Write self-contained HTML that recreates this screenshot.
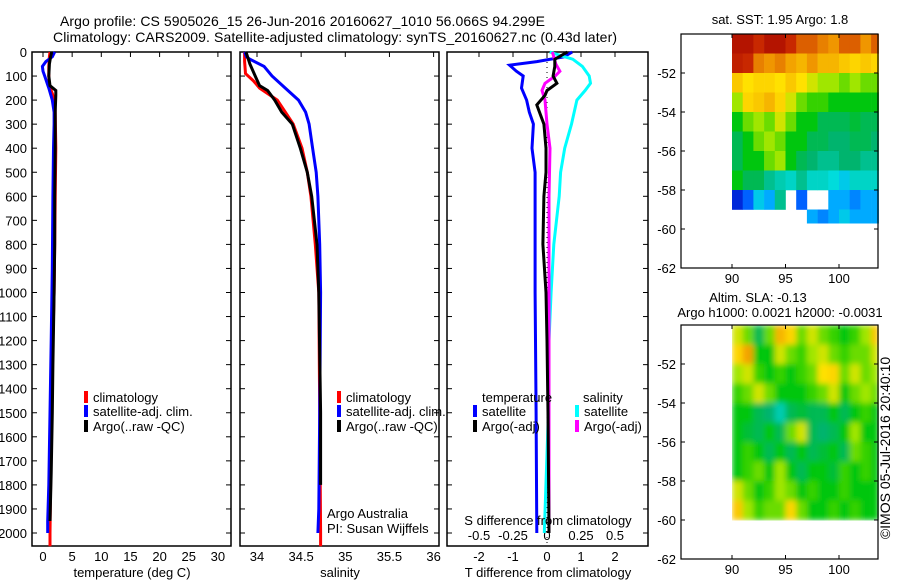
<!DOCTYPE html>
<html><head><meta charset="utf-8"><style>
html,body{margin:0;padding:0;background:#fff;}
svg{display:block;font-family:"Liberation Sans",sans-serif;}
</style></head><body>
<svg id="fig" width="900" height="580" viewBox="0 0 900 580">
<text x="60" y="26" font-size="14" text-anchor="start" textLength="485">Argo profile: CS 5905026_15 26-Jun-2016 20160627_1010 56.066S 94.299E</text>
<text x="53" y="42" font-size="14" text-anchor="start" textLength="564">Climatology: CARS2009. Satellite-adjusted climatology: synTS_20160627.nc (0.43d later)</text>
<defs><filter id="blur" x="0" y="0" width="1" height="1"><feGaussianBlur stdDeviation="3"/></filter></defs>
<g id="g"></g>
</svg>
<script>
// ---------- data ----------
const depthTicks=[0,100,200,300,400,500,600,700,800,900,1000,1100,1200,1300,1400,1500,1600,1700,1800,1900,2000];
const tTicks=[0,5,10,15,20,25,30];
const sTicks=[34,34.5,35,35.5,36];
const tdTicks=[-2,-1,0,1,2];
const sdTicks=[-0.5,-0.25,0,0.25,0.5];
const sdTickLabels=["-0.5","-0.25","0","0.25","0.5"];

const tClimDepth=[0,20,60,100,140,200,250,400,600,800,1000,1200,1500,1800,2000,2055];
const tClimVal=[1.2,1.1,1.0,1.0,1.1,2.0,2.1,2.2,2.1,2.0,1.9,1.7,1.5,1.3,1.2,1.2];
const tSatDepth=[0,20,40,60,80,100,150,200,250,300,400,600,900,1200,1500,1800,1950,2000];
const tSatVal=[2.0,1.6,0.5,-0.1,0.0,0.3,1.0,1.6,1.9,1.9,1.8,1.7,1.6,1.4,1.2,1.0,0.8,0.8];
const tArgoDepth=[0,20,50,100,140,160,180,250,400,600,800,1000,1300,1500,1750,1950];
const tArgoVal=[1.5,1.3,1.1,1.0,1.2,2.2,2.2,2.1,2.1,2.0,2.0,1.9,1.7,1.6,1.4,1.2];

const sClimDepth=[0,40,90,120,150,200,250,300,400,500,600,800,1000,1500,2000,2055];
const sClimVal=[33.86,33.86,33.87,33.96,34.03,34.23,34.32,34.41,34.51,34.57,34.61,34.66,34.70,34.71,34.72,34.72];
const sSatDepth=[0,20,30,60,100,150,200,250,300,400,500,600,800,1000,1500,1900,2000];
const sSatVal=[33.86,33.88,33.92,34.08,34.17,34.32,34.47,34.55,34.59,34.63,34.67,34.69,34.71,34.72,34.71,34.70,34.69];
const sArgoDepth=[0,50,100,140,160,200,250,300,400,500,600,800,1000,1500,1800];
const sArgoVal=[33.875,33.92,33.98,34.03,34.12,34.20,34.28,34.40,34.49,34.57,34.62,34.68,34.70,34.72,34.72];

const dTSatDepth=[0,20,40,55,80,100,150,200,250,300,400,500,800,1000,1500,2000];
const dTSatVal=[0.74,0.5,-0.3,-1.1,-0.9,-0.7,-0.75,-0.6,-0.52,-0.4,-0.44,-0.35,-0.35,-0.35,-0.32,-0.3];
const dTArgoDepth=[0,30,60,100,130,160,180,220,300,400,500,600,800,1000,1200,1500,2000];
const dTArgoVal=[0.6,0.23,0.23,0.18,0.29,0.0,-0.06,-0.3,-0.09,-0.03,-0.03,-0.09,-0.12,-0.03,0.0,0.03,0.06];
const dSSatDepth=[0,15,30,60,100,130,160,200,300,400,500,600,800,1000,1200,1500,2000];
const dSSatVal=[0.02,0.1,0.19,0.26,0.31,0.32,0.28,0.22,0.18,0.13,0.10,0.09,0.05,0.03,0.015,0.01,-0.02];
const dSArgoDepth=[0,50,80,100,130,160,200,250,300,400,600,1000,1500,2000];
const dSArgoVal=[0.04,0.065,0.095,0.06,-0.015,-0.037,-0.015,-0.007,0.0,0.022,0.015,0.015,0.015,0.015];

const mapLons=[90,91,92,93,94,95,96,97,98,99,100,101,102,103];
const mapLats=[-50,-51,-52,-53,-54,-55,-56,-57,-58,-59];
const sstGrid=[
[0.95,0.95,0.9,0.95,0.95,0.9,0.85,0.85,0.82,0.8,0.85,0.85,0.8,0.85],
[0.92,0.9,0.82,0.8,0.82,0.78,0.75,0.8,0.75,0.75,0.72,0.7,0.72,0.7],
[0.72,0.68,0.7,0.7,0.68,0.72,0.68,0.65,0.62,0.62,0.6,0.62,0.6,0.6],
[0.62,0.7,0.72,0.75,0.7,0.65,0.6,0.58,0.58,0.55,0.55,0.55,0.55,0.55],
[0.55,0.6,0.62,0.6,0.65,0.6,0.55,0.55,0.5,0.5,0.5,0.52,0.5,0.5],
[0.5,0.55,0.6,0.62,0.6,0.55,0.55,0.5,0.5,0.48,0.48,0.5,0.5,0.48],
[0.5,0.55,0.55,0.6,0.62,0.55,0.5,0.48,0.45,0.45,0.48,0.48,0.45,0.45],
[0.55,0.5,0.5,0.45,0.42,0.4,0.45,0.4,0.4,0.38,0.35,0.4,0.4,0.4],
[0.1,0.2,0.35,0.3,0.45,null,0.2,null,null,0.3,0.3,0.25,0.3,0.3],
[null,null,null,null,null,null,null,0.3,0.25,0.3,0.35,0.3,0.3,0.3]];
const slaGrid=[
[0.65,0.6,0.5,0.6,0.75,0.7,0.6,0.65,0.6,0.58,0.55,0.58,0.62,0.72],
[0.7,0.78,0.55,0.55,0.65,0.6,0.58,0.62,0.65,0.6,0.58,0.6,0.6,0.65],
[0.62,0.65,0.58,0.55,0.58,0.55,0.58,0.6,0.68,0.7,0.6,0.65,0.6,0.62],
[0.58,0.6,0.65,0.6,0.55,0.55,0.55,0.58,0.6,0.65,0.55,0.6,0.62,0.6],
[0.55,0.55,0.5,0.48,0.42,0.5,0.52,0.5,0.5,0.55,0.5,0.55,0.58,0.55],
[0.55,0.52,0.5,0.55,0.5,0.6,0.65,0.5,0.48,0.5,0.55,0.62,0.55,0.55],
[0.55,0.58,0.55,0.5,0.55,0.5,0.55,0.5,0.52,0.55,0.5,0.6,0.58,0.55],
[0.55,0.58,0.6,0.55,0.62,0.55,0.5,0.55,0.55,0.52,0.58,0.55,0.58,0.55],
[0.65,0.6,0.55,0.58,0.62,0.6,0.55,0.58,0.55,0.55,0.58,0.55,0.55,0.55],
[0.72,0.62,0.58,0.6,0.6,0.7,0.6,0.55,0.55,0.58,0.55,0.58,0.55,0.55]];
const latTicks=[-52,-54,-56,-58,-60,-62];
const lonTicks=[90,95,100];

// ---------- helpers ----------
const NS='http://www.w3.org/2000/svg';
const G=document.getElementById('g');
function mk(tag,attrs,parent){const e=document.createElementNS(NS,tag);for(const k in attrs)e.setAttribute(k,attrs[k]);(parent||G).appendChild(e);return e;}
function txt(x,y,s,size,anchor,parent){const t=mk('text',{x:x,y:y,'font-size':size||13,'text-anchor':anchor||'middle'},parent);t.textContent=s;return t;}

const Y0=52,Y1=546,DPX=0.2405;
const yD=d=>Y0+d*DPX;
const xT=v=>43+v*5.83;
const xS=v=>257+(v-34)*88.3;
const xDT=v=>547+v*34;
const xDS=v=>547+v*136;

function frame(x0,x1,name){
  const r=mk('rect',{x:x0,y:Y0,width:x1-x0,height:Y1-Y0,fill:'none',stroke:'#000','stroke-width':1.5});
  
  
  depthTicks.forEach(d=>{
    mk('line',{x1:x0,x2:x0+5,y1:yD(d),y2:yD(d),stroke:'#000'});
    mk('line',{x1:x1-5,x2:x1,y1:yD(d),y2:yD(d),stroke:'#000'});
  });
}
function profile(depths,vals,xf,color,name){
  const p=depths.map((d,i)=>xf(vals[i]).toFixed(1)+','+yD(d).toFixed(1)).join(' ');
  const l=mk('polyline',{points:p,fill:'none',stroke:color,'stroke-width':3,'stroke-linejoin':'miter'});
  
  
}
function legend(x,y,color,label,name){
  const g=mk('g',{});
  
  
  mk('rect',{x:x,y:y-8,width:4,height:12,fill:color},g);
  txt(x+9,y+3,label,13,'start',g);
}

// ---------- panel 1: temperature ----------
frame(32,231,'temperature-panel');
depthTicks.forEach(d=>{const t=txt(27,yD(d)+5,String(d),13,'end');});
tTicks.forEach(v=>{mk('line',{x1:xT(v),x2:xT(v),y1:Y0,y2:Y0+5,stroke:'#000'});const t=txt(xT(v),561,String(v));});
profile(tClimDepth,tClimVal,xT,'#ff0000','temperature-climatology-line');
profile(tSatDepth,tSatVal,xT,'#0000ff','temperature-satellite-line');
profile(tArgoDepth,tArgoVal,xT,'#000000','temperature-argo-line');
{const t=txt(132,577,'temperature (deg C)');}
legend(84,399,'#ff0000','climatology','legend-climatology-1');
legend(84,413,'#0000ff','satellite-adj. clim.','legend-satellite-1');
legend(84,428,'#000000','Argo(..raw -QC)','legend-argo-1');

// ---------- panel 2: salinity ----------
frame(240,439,'salinity-panel');
sTicks.forEach(v=>{mk('line',{x1:xS(v),x2:xS(v),y1:Y0,y2:Y0+5,stroke:'#000'});const t=txt(xS(v),561,String(v));});
profile(sClimDepth,sClimVal,xS,'#ff0000','salinity-climatology-line');
profile(sSatDepth,sSatVal,xS,'#0000ff','salinity-satellite-line');
profile(sArgoDepth,sArgoVal,xS,'#000000','salinity-argo-line');
{const t=txt(340,577,'salinity');}
legend(337,399,'#ff0000','climatology','legend-climatology-2');
legend(337,413,'#0000ff','satellite-adj. clim.','legend-satellite-2');
legend(337,428,'#000000','Argo(..raw -QC)','legend-argo-2');
{const t=txt(327,518,'Argo Australia',13,'start');}
{const t=txt(327,533,'PI: Susan Wijffels',13,'start');}

// ---------- panel 3: differences ----------
frame(447,648,'difference-panel');
tdTicks.forEach(v=>{mk('line',{x1:xDT(v),x2:xDT(v),y1:Y0,y2:Y0+5,stroke:'#000'});const t=txt(xDT(v),561,String(v));});
sdTicks.forEach((v,i)=>{const t=txt(xDS(v),540,sdTickLabels[i]);});
mk('line',{x1:xDT(0),x2:xDT(0),y1:Y0,y2:Y1,stroke:'#000','stroke-dasharray':'1,4'});
profile(dTSatDepth,dTSatVal,xDT,'#0000ff','t-diff-satellite-line');
profile(dSSatDepth,dSSatVal,xDS,'#00ffff','s-diff-satellite-line');
profile(dSArgoDepth,dSArgoVal,xDS,'#ff00ff','s-diff-argo-line');
profile(dTArgoDepth,dTArgoVal,xDT,'#000000','t-diff-argo-line');
{const t=txt(482,402,'temperature',13,'start');}
{const t=txt(583,402,'salinity',13,'start');}
legend(473,413,'#0000ff','satellite','legend-t-satellite');
legend(473,428,'#000000','Argo(-adj)','legend-t-argo');
legend(575,413,'#00ffff','satellite','legend-s-satellite');
legend(575,428,'#ff00ff','Argo(-adj)','legend-s-argo');
{const t=txt(548,525,'S difference from climatology');}
{const t=txt(548,577,'T difference from climatology');}

// ---------- maps ----------
const stops=[[0,[0,0,140]],[0.15,[0,60,255]],[0.3,[0,170,255]],[0.38,[0,220,220]],[0.48,[0,180,110]],[0.56,[0,200,0]],[0.62,[160,230,0]],[0.68,[255,225,0]],[0.8,[240,150,0]],[0.9,[200,40,0]],[1,[160,0,0]]];
function cmap(v){for(let i=1;i<stops.length;i++){if(v<=stops[i][0]){const a=stops[i-1],b=stops[i],f=(v-a[0])/(b[0]-a[0]);const c=a[1].map((x,k)=>Math.round(x+(b[1][k]-x)*f));return 'rgb('+c.join(',')+')';}}return 'rgb(160,0,0)';}
const xL=lon=>732+(lon-90)*10.7;
function drawMap(top,bottom,latTop,pxPerDeg,grid,latMin,name,cellName,smooth){
  const yL=lat=>top+(latTop-lat)*pxPerDeg;
  const g=mk('g',smooth?{filter:'url(#blur)'}:{});
  
  
  mapLats.forEach((lat,r)=>{mapLons.forEach((lon,c)=>{
    const v=grid[r][c]; if(v===null) return;
    const yb=Math.max(lat-1,latMin);
    const rc=mk('rect',{x:xL(lon).toFixed(1),y:yL(lat).toFixed(1),width:(xL(Math.min(lon+1,103.7))-xL(lon)+0.3).toFixed(1),height:(yL(yb)-yL(lat)+0.3).toFixed(1),fill:cmap(v)},g);
    
    
  });});
  mk('rect',{x:681,y:top,width:197,height:bottom-top,fill:'none',stroke:'#000','stroke-width':1.2});
  latTicks.forEach(l=>{const y=yL(l);mk('line',{x1:681,x2:685,y1:y,y2:y,stroke:'#000'});mk('line',{x1:874,x2:878,y1:y,y2:y,stroke:'#000'});const t=txt(676,y+5,String(l),13,'end');});
  lonTicks.forEach(l=>{const x=xL(l);mk('line',{x1:x,x2:x,y1:top,y2:top+4,stroke:'#000'});mk('line',{x1:x,x2:x,y1:bottom-4,y2:bottom,stroke:'#000'});const t=txt(x,bottom+15,String(l));});
}
drawMap(34,268,-50,19.5,sstGrid,-59.7,'sst-map','sst-cell',false);
drawMap(325,559,-50,19.5,slaGrid,-60,'sla-map','sla-cell',true);
{const t=txt(780,24,'sat. SST: 1.95 Argo: 1.8');}
{const t=txt(758,302,'Altim. SLA: -0.13');}
{const t=txt(780,317,'Argo h1000: 0.0021 h2000: -0.0031');}
{const t=txt(0,0,'©IMOS 05-Jul-2016 20:40:10',14);t.setAttribute('transform','translate(890,448) rotate(-90)');}
</script>
</body></html>
